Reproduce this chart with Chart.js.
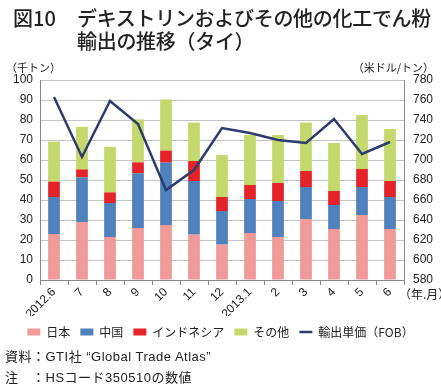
<!DOCTYPE html>
<html>
<head>
<meta charset="utf-8">
<script src="https://cdn.jsdelivr.net/npm/chart.js@4"></script>
<style>
  body { margin: 0; background: #fff; }
  #wrap { position: relative; width: 441px; height: 390px; font-family: "Noto Sans CJK JP", sans-serif; color: #222; }
  #grafica { position: absolute; left: 0; top: 0; }
  .txt { position: absolute; white-space: nowrap; }
  .pie { font-family: "Liberation Sans", "Noto Sans CJK JP", sans-serif; font-size: 13px; letter-spacing: 0.5px; }
</style>
</head>
<body>
<div id="wrap">
  <canvas id="grafica" width="441" height="390"></canvas>
  <div class="txt" style="left:13px;top:6px;font-size:20px;line-height:23px;font-weight:500;">図10</div>
  <div class="txt" style="left:77px;top:6px;font-size:20px;line-height:23px;font-weight:500;letter-spacing:-0.3px;">デキストリンおよびその他の化工でん粉<br>輸出の推移（タイ）</div>
  <div class="txt" style="left:6px;top:59px;font-size:11px;">（千トン）</div>
  <div class="txt" style="right:7px;top:59px;font-size:11px;">（米ドル/トン）</div>
  <div class="txt" style="left:399px;top:285px;font-size:12px;">（年.月）</div>
  <div class="txt pie" style="left:5px;top:346px;">資料：GTI社 “Global Trade Atlas”</div>
  <div class="txt pie" style="left:5px;top:367px;">注　：HSコード350510の数値</div>
</div>
<script>
// Datos (miles de toneladas y USD/t)
const meses = ['2012.6', '7', '8', '9', '10', '11', '12', '2013.1', '2', '3', '4', '5', '6'];
const japon = [23, 29, 21.5, 26, 27.5, 22.7, 17.7, 23.5, 21.5, 30.5, 25.5, 32.5, 25.5];
const china = [18.5, 22.3, 17, 27.3, 31.2, 26.8, 16.8, 17, 18, 16, 12, 14, 16];
const indonesia = [7.7, 4, 5.3, 5.5, 6, 10, 7, 7, 9, 8, 7, 9, 8];
const otros = [20, 21.3, 22.8, 21.5, 25.6, 19.2, 21, 25, 24, 24.2, 24, 27, 26];
const precio = [763, 703, 759, 736, 670, 690, 732, 727, 720, 717, 741, 706, 718];

const etiquetas = ['日本', '中国', 'インドネシア', 'その他', '輸出単価（FOB）'];
const colores = ['#F09A99', '#4F81BD', '#E5242A', '#C4D86E', '#2D3C6C'];

const fuente = '"Liberation Sans", "Noto Sans CJK JP", sans-serif';
const grafica = document.getElementById('grafica');

function barra(i, datos) {
    return {
        type: 'bar',
        label: etiquetas[i],
        data: datos,
        backgroundColor: colores[i],
        borderWidth: 0,
        stack: 'total',
        yAxisID: 'y',
        order: 1,
        barPercentage: 0.42,
        categoryPercentage: 1
    };
}

const data = {
    labels: meses,
    datasets: [
        {
            type: 'line',
            label: etiquetas[4],
            data: precio,
            borderColor: colores[4],
            backgroundColor: colores[4],
            borderWidth: 2.5,
            pointRadius: 0,
            tension: 0,
            yAxisID: 'y2',
            order: 0
        },
        barra(0, japon),
        barra(1, china),
        barra(2, indonesia),
        barra(3, otros)
    ]
};

const config = {
    data: data,
    options: {
        responsive: false,
        animation: false,
        layout: { padding: { top: 80, left: 0, right: 0, bottom: 42 } },
        plugins: {
            tooltip: { enabled: false },
            legend: {
                position: 'bottom',
                labels: {
                    usePointStyle: true,
                    pointStyleWidth: 13,
                    boxHeight: 7,
                    padding: 10,
                    color: '#222',
                    font: { family: '"Noto Sans CJK JP", sans-serif', size: 12 },
                    generateLabels: function (chart) {
                        const items = Chart.defaults.plugins.legend.labels.generateLabels(chart);
                        items.forEach(function (item) {
                            if (item.datasetIndex === 0) {
                                item.pointStyle = 'line';
                                item.lineWidth = 2.5;
                            } else {
                                item.pointStyle = 'rect';
                                item.lineWidth = 0;
                            }
                        });
                        // el orden de la leyenda: barras primero, linea al final
                        return items.slice(1).concat(items.slice(0, 1));
                    }
                }
            }
        },
        scales: {
            x: {
                stacked: true,
                offset: true,
                border: { display: true, color: '#888' },
                grid: { display: true, drawOnChartArea: false, drawTicks: true, tickLength: 5, color: '#888' },
                ticks: {
                    minRotation: 45,
                    maxRotation: 45,
                    padding: 0,
                    color: '#222',
                    font: { family: fuente, size: 12 }
                },
                afterFit: function (scale) { scale.height = 36; }
            },
            y: {
                position: 'left',
                stacked: true,
                min: 0,
                max: 100,
                border: { display: true, color: '#888' },
                grid: { color: '#C4C4C4', drawTicks: false },
                ticks: { stepSize: 10, padding: 7, color: '#222', font: { family: fuente, size: 12 } },
                afterFit: function (scale) { scale.width = 40; }
            },
            y2: {
                position: 'right',
                min: 580,
                max: 780,
                border: { display: true, color: '#888' },
                grid: { drawOnChartArea: false, drawTicks: false },
                ticks: { stepSize: 20, padding: 9, color: '#222', font: { family: fuente, size: 12 } },
                afterFit: function (scale) { scale.width = 37; }
            }
        }
    }
};

new Chart(grafica, config);
</script>
</body>
</html>
